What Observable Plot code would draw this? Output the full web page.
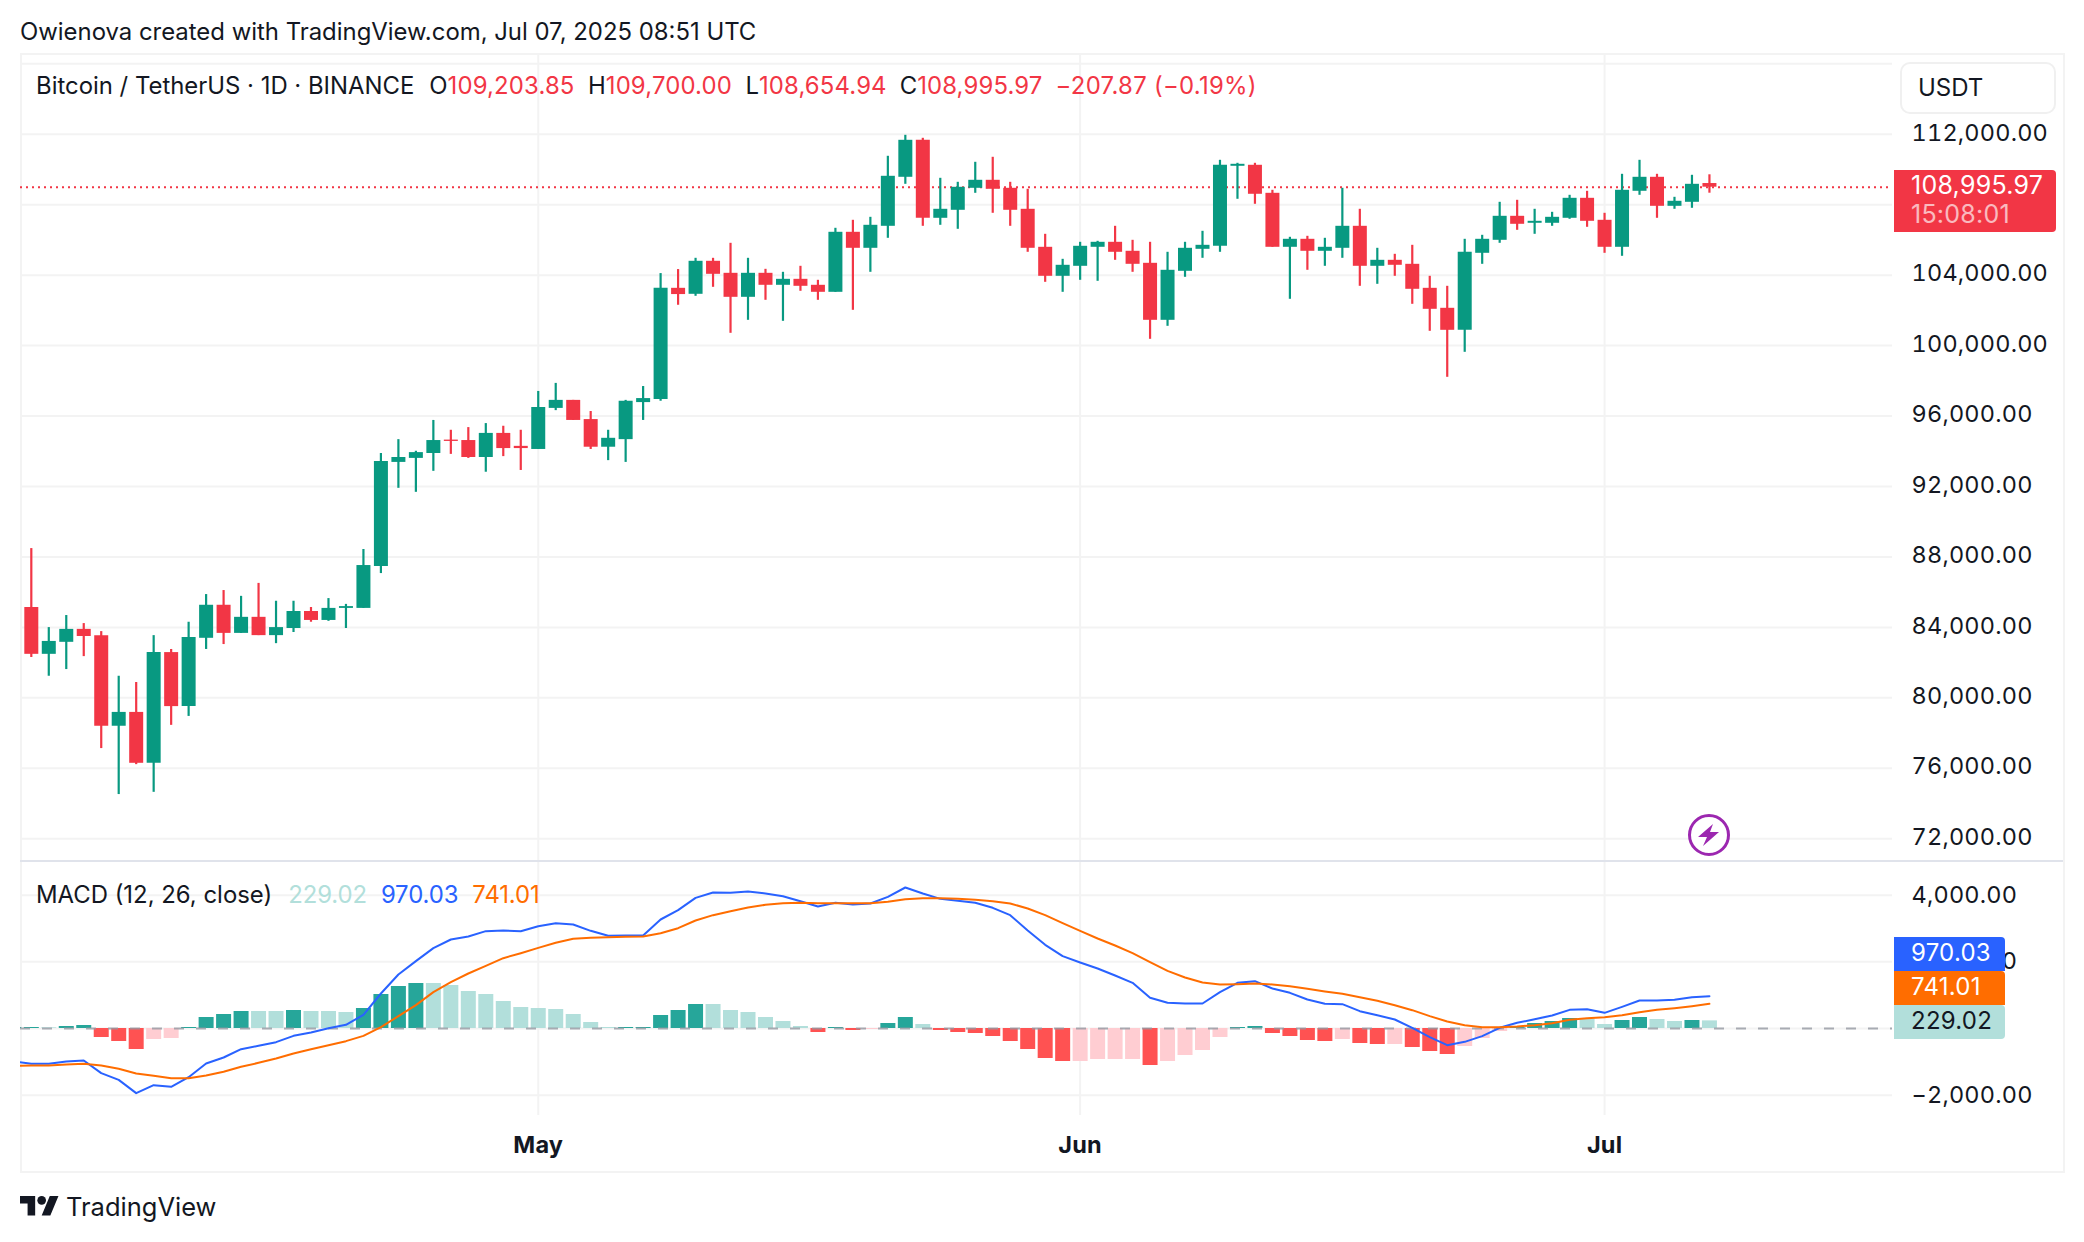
<!DOCTYPE html>
<html><head><meta charset="utf-8">
<script src="https://cdn.jsdelivr.net/npm/d3@7"></script>
<script src="https://cdn.jsdelivr.net/npm/@observablehq/plot@0.6"></script>
<style>
html,body{margin:0;padding:0;background:#fff}
#page{position:relative;width:2084px;height:1242px;overflow:hidden;font-family:Inter,"Noto Sans",sans-serif;color:#131722}
#page svg{position:absolute;left:0;background:transparent}
.t{position:absolute;white-space:pre;line-height:1}
.frame{position:absolute;left:20px;top:53px;width:2041px;height:1116px;border:2px solid #f3f3f3;box-sizing:content-box}
.sep{position:absolute;left:20px;width:2043px;top:860px;height:2px;background:#e0e3eb}
.tag{position:absolute;left:1894px;width:111px;height:34px;box-sizing:border-box;padding-left:17px;font-size:24px;letter-spacing:.25px;line-height:32px}
</style></head><body><div id="page">
<div class="frame"></div>
<div id="top"></div><div id="bottom"></div>
<div class="sep"></div>
<div class="t" style="left:20px;top:20px;font-size:23.9px">Owienova created with TradingView.com, Jul 07, 2025 08:51 UTC</div>
<div class="t" id="legend" style="left:36px;top:74px;font-size:23.9px">Bitcoin / TetherUS · 1D · BINANCE</div>
<div class="t" id="macdLegend" style="left:36px;top:883px;font-size:23.9px">MACD (12, 26, close)</div>
<div style="position:absolute;left:1900px;top:62px;width:156px;height:52px;border:2px solid #f0f0f0;border-radius:10px;box-sizing:border-box"></div>
<div class="t" style="left:1918px;top:76px;font-size:24px">USDT</div>
<div style="position:absolute;left:1894px;top:170px;width:162px;height:62px;background:#f23645;border-radius:0 4px 4px 0"></div>
<div class="t" style="left:1911px;top:173px;font-size:25px;letter-spacing:.25px;color:#fff">108,995.97</div>
<div class="t" style="left:1911px;top:202px;font-size:25px;letter-spacing:.25px;color:#fff;opacity:.65">15:08:01</div>
<div class="tag" style="top:937px;background:#2962ff;color:#fff;border-radius:0 4px 0 0">970.03</div>
<div class="tag" style="top:971px;background:#ff6d00;color:#fff;border-radius:0 4px 0 0">741.01</div>
<div class="tag" style="top:1005px;background:#b2dfdb;color:#131722;border-radius:0 4px 4px 0">229.02</div>
<svg style="left:1686px;top:812px" width="46" height="46" viewBox="0 0 46 46">
<circle cx="23" cy="23" r="19.5" fill="#fff" stroke="#9c27b0" stroke-width="3"/>
<path d="M27 12 L12 25 L21 25 L17 34 L33 20 L24 20 Z" fill="#9c27b0"/></svg>
<svg style="left:20px;top:1196px" width="39" height="19.5" viewBox="0 4 36 18">
<path fill="#131722" d="M14 22H7V11H0V4h14v18zM28 22h-8l7.5-18h8L28 22z"/><circle fill="#131722" cx="20" cy="8" r="4"/></svg>
<div class="t" style="left:66px;top:1194px;font-size:25.5px;font-weight:400">TradingView</div>
</div>
<script>
const open=[85130,82470,83152,83887,83532,78386,79172,76282,82569,79501,
83380,85256,83659,84571,83532,83938,84901,84394,85078,85078,
87461,93368,93596,93875,94635,94610,93647,95015,94280,94103,
96435,96891,95801,94230,94661,96765,96942,103254,102914,104788,
104106,102743,104106,103425,103765,103425,103027,106435,105526,106775,
109558,111659,107230,107684,108933,109388,108933,107741,105583,103936,
104504,105583,105867,105356,104674,101437,104220,105469,105640,110183,
110240,108649,105583,106037,105356,105526,106775,104504,104844,104617,
103254,102119,100869,105242,105980,107343,106946,106946,107230,108365,
107116,105583,108763,109558,107911,108138,109204];
const high=[88475,83988,84673,84216,83760,81225,80870,83532,82746,84292,
85864,86092,85763,86498,85484,85484,85129,85636,85306,88424,
93875,94661,94001,95751,95193,95345,95573,95421,95193,97398,
97855,96891,96258,95193,96891,97677,104091,104319,104958,104958,
105810,104958,104333,104163,104504,103709,106662,107116,107286,110751,
111943,111773,109501,109274,110410,110694,109274,108877,106321,104901,
105867,105923,106775,105980,105867,105299,105867,106491,110523,110353,
110353,108820,106151,106207,106094,108933,107741,105526,105185,105696,
103936,103368,106037,106264,108138,108252,107741,107570,108536,108763,
107514,109728,110523,109728,108422,109672,109700];
const low=[82290,81225,81605,82340,77118,74507,76206,74634,78437,78944,
82746,83025,83659,83532,83076,83709,84292,84343,83938,85078,
87056,91897,91669,92861,93824,93596,92810,93697,92911,94103,
96308,95751,94103,93469,93368,95751,96841,102291,102800,103311,
100699,101437,102573,101380,103084,102573,103027,102005,104163,106094,
109160,106775,106832,106605,108649,107514,106775,105299,103595,103027,
103709,103652,104844,104163,100358,101096,103879,104958,105299,108309,
108025,105583,102630,104277,104504,104958,103368,103481,103936,102346,
100812,98200,99620,104617,105810,106548,106321,106775,107173,106719,
105242,105072,108536,107230,107741,107798,108655];
const close=[82470,83202,83887,83481,78386,79172,76282,82569,79501,83431,
85256,83659,84571,83532,83988,84901,84394,85078,85180,87512,
93418,93647,93925,94610,94559,93647,95015,94154,94154,96486,
96891,95751,94230,94737,96841,96993,103254,102899,104788,104049,
102743,104106,103425,103765,103368,103027,106435,105526,106832,109615,
111659,107230,107741,108990,109388,108877,107684,105526,103936,104561,
105640,105867,105299,104617,101437,104277,105526,105696,110240,110296,
108593,105583,106037,105356,105583,106775,104504,104844,104561,103198,
102062,100869,105299,106037,107343,106889,107059,107286,108365,107059,
105583,108820,109558,107911,108195,109160,108996];
const lastClose=[108995.97];
const priceTicks=[72000,76000,80000,84000,88000,92000,96000,100000,104000,108000,112000,116000];
const priceLabels=[72000,76000,80000,84000,88000,92000,96000,100000,104000,108000,112000];
const macdTicks=[-2000,0,2000,4000];
const months=[new Date("2025-05-01"),new Date("2025-06-01"),new Date("2025-07-01")];
const monthNames=["May","Jun","Jul"];
// MACD pane: first entry is the session before the first candle, clipped by the frame
const hist=[30,30,20,60,90,-270,-390,-630,-330,-300,30,330,420,510,510,510,540,510,510,480,600,1020,1260,1350,1350,1290,1110,1020,810,630,600,570,420,180,30,30,30,390,540,720,720,540,480,330,210,60,-120,30,-60,-30,150,330,120,-60,-120,-150,-240,-390,-630,-900,-990,-990,-930,-930,-930,-1110,-990,-810,-660,-270,30,60,-150,-240,-360,-390,-330,-450,-480,-480,-570,-690,-780,-540,-300,-90,30,150,210,300,270,120,240,330,270,210,240,229];
const macd=[-990,-1060,-1060,-990,-960,-1340,-1540,-1940,-1700,-1750,-1460,-1050,-870,-620,-520,-410,-220,-120,10,110,410,1050,1620,2020,2410,2670,2760,2920,2940,2920,3070,3160,3120,2930,2780,2790,2790,3270,3550,3920,4080,4070,4110,4050,3970,3820,3660,3770,3720,3750,3950,4230,4050,3890,3830,3770,3620,3400,2940,2510,2170,1980,1800,1590,1370,920,770,750,750,1090,1370,1420,1200,1070,870,740,730,520,400,270,20,-260,-500,-400,-230,20,170,280,390,560,580,470,650,840,840,860,940,970];
const signal=[-1120,-1110,-1110,-1080,-1060,-1110,-1210,-1350,-1420,-1490,-1490,-1410,-1300,-1150,-1030,-900,-750,-620,-500,-380,-220,40,370,700,1090,1390,1650,1880,2110,2260,2420,2570,2690,2720,2740,2750,2760,2860,3010,3240,3400,3520,3630,3710,3760,3770,3760,3760,3760,3760,3800,3880,3910,3910,3890,3860,3820,3750,3600,3400,3160,2930,2700,2490,2260,1990,1730,1530,1380,1320,1330,1350,1320,1270,1190,1110,1040,940,830,700,550,370,210,100,40,40,60,100,160,260,310,340,400,490,560,610,670,741];

const GREEN="#089981",RED="#f23645";
const dates=d3.utcDay.range(new Date("2025-04-02"),new Date("2025-07-08"));
const candles=dates.map((date,i)=>({date,o:open[i],h:high[i],l:low[i],c:close[i],col:close[i]>=open[i]?GREEN:RED}));
const macdDates=d3.utcDay.range(new Date("2025-04-01"),new Date("2025-07-08"));
const pane=macdDates.map((date,i)=>{
  const v=hist[i],prev=i?hist[i-1]:v;
  const col=v>=0?(v>prev||(v===prev&&v<100)?"#26a69a":"#b2dfdb"):(v<prev?"#ff5252":"#ffcdd2");
  return {date,v,m:macd[i],s:signal[i],col};
});
const xDomain=[new Date("2025-04-01T09:10Z"),new Date("2025-07-17T11:20Z")];
const FONT="Inter, 'Noto Sans', sans-serif";
const GRID="#f3f3f3";
const axisStyle={background:"transparent",fontFamily:FONT,fontSize:"23.5px",letterSpacing:".2px",color:"#131722"};

const topPlot=Plot.plot({
  width:2084,height:862,marginLeft:20,marginRight:192,marginTop:54,marginBottom:0,
  style:axisStyle,
  x:{type:"utc",domain:xDomain,axis:null},
  y:{domain:[70649,116531],axis:null},
  marks:[
    Plot.ruleY(priceTicks,{stroke:GRID,strokeWidth:2}),
    Plot.ruleX(months,{stroke:GRID,strokeWidth:2}),
    Plot.ruleY(lastClose,{stroke:RED,strokeWidth:2,strokeDasharray:"2,4"}),
    Plot.ruleX(candles,{x:"date",y1:"l",y2:"h",stroke:"col",strokeWidth:2.2}),
    Plot.ruleX(candles,{x:"date",y1:"o",y2:"c",stroke:"col",strokeWidth:14}),
    Plot.axisY(priceLabels,{anchor:"right",tickSize:0,tickPadding:19,tickFormat:d3.format(",.2f"),label:null,dy:-1.3})
  ]
});
topPlot.style.top="0px";
document.getElementById("top").appendChild(topPlot);

const bottomPlot=Plot.plot({
  width:2084,height:312,marginLeft:20,marginRight:192,marginTop:0,marginBottom:58,
  style:axisStyle,
  x:{type:"utc",domain:xDomain,axis:null},
  y:{domain:[-2610,5010],axis:null},
  marks:[
    Plot.ruleY(macdTicks,{stroke:GRID,strokeWidth:2}),
    Plot.ruleX(months,{stroke:GRID,strokeWidth:2}),
    Plot.ruleX(pane,{x:"date",y1:0,y2:"v",stroke:"col",strokeWidth:15,clip:"frame"}),
    Plot.ruleY([0],{stroke:"#9598a1",strokeOpacity:.8,strokeWidth:2,strokeDasharray:"10,12"}),
    Plot.line(pane,{x:"date",y:"m",stroke:"#2962ff",strokeWidth:2,curve:"linear",clip:"frame"}),
    Plot.line(pane,{x:"date",y:"s",stroke:"#ff6d00",strokeWidth:2,curve:"linear",clip:"frame"}),
    Plot.axisY(macdTicks,{anchor:"right",tickSize:0,tickPadding:19,tickFormat:d3.format(",.2f"),label:null}),
    Plot.axisX(months,{anchor:"bottom",tickSize:0,tickPadding:21,tickFormat:d=>monthNames[d.getUTCMonth()-4],label:null,fontWeight:700})
  ]
});
bottomPlot.style.top="861px";
document.getElementById("bottom").appendChild(bottomPlot);

// legend value runs
function addRuns(id,runs){
  const el=document.getElementById(id);
  for(const [txt,col,gap,ls] of runs){
    const s=document.createElement("span");
    s.textContent=txt;s.style.color=col;s.style.marginLeft=gap+"px";
    s.style.letterSpacing=ls+"px";
    el.appendChild(s);
  }
}
addRuns("legend",[["O","#131722",15,0],["109,203.85",RED,0,.15],["H","#131722",13.5,0],["109,700.00",RED,0,.15],["L","#131722",13.5,0],["108,654.94",RED,0,.15],["C","#131722",13,0],["108,995.97",RED,0,.15],["−207.87 (−0.19%)",RED,13,.3]]);
addRuns("macdLegend",[["229.02","#b2dfdb",16,-.1],["970.03","#2962ff",14,-.1],["741.01","#ff6d00",14,-.1]]);
</script></body></html>
